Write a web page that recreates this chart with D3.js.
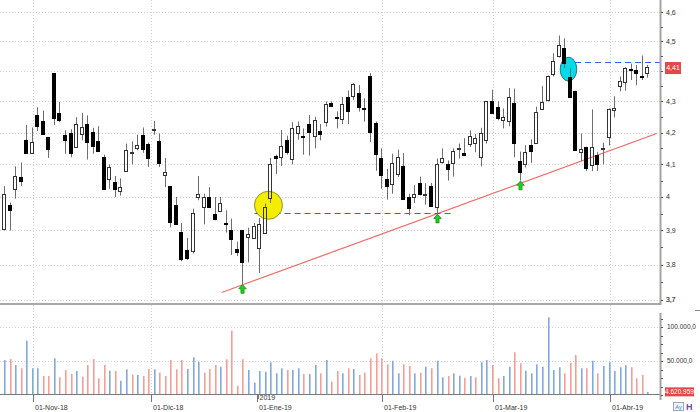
<!DOCTYPE html>
<html><head><meta charset="utf-8">
<script src="https://cdn.jsdelivr.net/npm/d3@7/dist/d3.min.js"></script>
<style>body{margin:0;background:#fff;}svg{display:block;font-family:"Liberation Sans",Arial,sans-serif;}</style>
</head><body><svg id="c" width="700" height="412"></svg>
<script>
// ---------- data ----------
const opens = [4.000,3.906,3.977,4.023,4.061,4.175,4.136,4.256,4.238,4.186,
4.393,4.263,4.191,4.197,4.154,4.195,4.226,4.202,4.172,4.122,
4.054,4.046,4.017,4.079,4.139,4.154,4.193,4.165,4.208,4.172,
4.068,4.032,3.977,3.894,3.843,3.840,4.002,3.970,4.000,3.948,
3.958,3.921,3.902,3.845,3.900,3.882,3.878,3.848,3.892,3.995,
4.125,4.124,4.175,4.114,4.197,4.188,4.226,4.188,4.205,4.233,
4.294,4.249,4.243,4.316,4.319,4.327,4.278,4.385,4.230,4.120,
4.055,4.040,4.072,4.096,4.000,4.000,4.043,4.009,4.034,3.970,
4.107,4.100,4.104,4.150,4.135,4.162,4.168,4.125,4.175,4.300,
4.281,4.238,4.238,4.294,4.110,4.102,4.162,4.168,4.274,4.302,
4.390,4.449,4.478,4.380,4.335,4.139,4.155,4.100,4.130,4.148,
4.184,4.272,4.350,4.363,4.406,4.404,4.385,4.393];
const highs = [4.005,4.033,3.983,4.094,4.106,4.224,4.216,4.281,4.270,4.186,
4.393,4.298,4.207,4.210,4.249,4.263,4.255,4.215,4.220,4.130,
4.100,4.064,4.057,4.165,4.172,4.193,4.216,4.168,4.237,4.197,
4.120,4.032,4.000,3.922,3.878,3.965,4.064,4.010,4.030,4.000,
4.000,3.960,3.935,3.867,3.900,3.908,3.922,3.937,3.980,4.120,
4.130,4.208,4.190,4.233,4.235,4.213,4.256,4.250,4.227,4.300,
4.300,4.268,4.314,4.336,4.360,4.354,4.310,4.393,4.235,4.150,
4.086,4.133,4.146,4.135,4.010,4.036,4.062,4.042,4.043,4.118,
4.150,4.112,4.150,4.165,4.182,4.207,4.195,4.215,4.300,4.338,
4.300,4.277,4.344,4.342,4.140,4.160,4.178,4.283,4.350,4.385,
4.460,4.520,4.510,4.410,4.335,4.197,4.155,4.274,4.138,4.168,
4.277,4.317,4.382,4.413,4.425,4.420,4.452,4.420];
const lows = [3.920,3.900,3.900,3.995,4.033,4.134,4.136,4.205,4.195,4.120,
4.224,4.233,4.133,4.122,4.154,4.175,4.115,4.133,4.142,4.022,
4.025,4.000,4.004,4.079,4.100,4.144,4.136,4.092,4.193,4.092,
4.030,3.909,3.921,3.810,3.814,3.833,3.990,3.918,3.970,3.930,
3.955,3.894,3.828,3.825,3.745,3.807,3.875,3.776,3.890,3.982,
4.070,4.095,4.130,4.100,4.177,4.130,4.127,4.150,4.175,4.219,
4.283,4.213,4.227,4.227,4.305,4.267,4.235,4.170,4.080,4.025,
3.992,4.010,4.061,3.995,3.945,3.982,4.005,3.977,3.970,3.950,
4.102,4.050,4.062,4.118,4.127,4.154,4.138,4.094,4.165,4.260,
4.239,4.213,4.220,4.122,4.050,4.090,4.105,4.165,4.272,4.300,
4.382,4.445,4.410,4.315,4.145,4.110,4.079,4.079,4.080,4.100,
4.159,4.248,4.333,4.335,4.370,4.353,4.370,4.378];
const closes = [3.925,4.010,3.962,4.063,4.049,4.134,4.170,4.221,4.195,4.148,
4.247,4.242,4.175,4.133,4.226,4.216,4.170,4.159,4.142,4.022,
4.092,4.026,4.030,4.144,4.140,4.162,4.150,4.122,4.210,4.104,
4.076,3.923,3.919,3.816,3.819,3.952,4.010,4.000,3.970,3.933,
3.982,3.919,3.875,3.837,3.807,3.890,3.913,3.920,3.970,4.100,
4.120,4.157,4.138,4.213,4.220,4.186,4.200,4.239,4.195,4.292,
4.283,4.248,4.292,4.272,4.357,4.283,4.277,4.202,4.133,4.068,
4.033,4.105,4.124,3.995,3.966,4.010,4.008,4.010,3.974,4.101,
4.120,4.084,4.142,4.151,4.130,4.188,4.184,4.200,4.300,4.260,
4.245,4.248,4.316,4.165,4.077,4.140,4.144,4.266,4.297,4.382,
4.433,4.487,4.427,4.315,4.145,4.148,4.089,4.155,4.103,4.150,
4.274,4.280,4.368,4.410,4.404,4.393,4.383,4.413];
// volume in thousands
const volumes = [40000,
51500,52900,44100,39300,79900,39300,39300,27900,27900,54000,
26000,36800,30900,35300,26900,44100,52900,24600,44100,35700,
35300,21000,37800,29900,29400,27900,38200,37800,32800,27900,
51500,37800,51500,38200,55400,48500,32800,38200,44100,41600,
52500,94600,13200,52500,36800,18100,35300,34300,48100,31900,
39300,36800,36800,39300,30900,30900,44100,31900,51500,19600,
35300,31900,39300,38200,29400,32800,54000,61300,54000,45100,
50400,31900,45100,42600,31900,32800,41600,39300,50400,26000,
27900,31900,28400,25400,27900,26000,48100,51500,44100,24600,
27900,41600,62800,46600,35700,31900,45100,41600,114300,36800,
40700,31900,47500,58800,39300,39300,50400,31900,42600,48100,
35300,40700,43700,40700,24600,29400,4620.959];

const priceTicks = [3.7,3.8,3.9,4.0,4.1,4.2,4.3,4.4,4.5,4.6];
const priceTickLabels = ["3,7","3,8","3,9","4","4,1","4,2","4,3","4,4","4,5","4,6"];
const monthLabels = ["01-Nov-18","01-Dic-18","01-Ene-19","01-Feb-19","01-Mar-19","01-Abr-19"];
const monthIndex = [6, 27.33, 46.5, 69, 89, 110];   // bar index of each month start
const monthGrid = [true, true, false, true, true, true];
const yearLabel = "2019";
const yearIndex = 46.5;
const volTicks = [50000, 100000];
const volTickLabels = ["50.000,0", "100.000,0"];
const lastPrice = 4.41, lastPriceLabel = "4,41";
const lastVolumeLabel = "4.620.959";
const arrowBars = [44, 79, 94];
const levelLines = [{from: 46.0, to: 82.0, price: 3.951}, {from: 103.8, to: 119.2, price: 4.429}];
const trendLine = [{i: 40.07, p: 3.721}, {i: 118.5, p: 4.197}];
const yellowMark = {i: 48.5, p: 3.975};
const cyanMark = {i: 102.6, p: 4.406};

// ---------- layout ----------
const svg = d3.select("#c");
const plotRight = 660, mainBottom = 303;
const n = closes.length;
const x = d3.scaleLinear().domain([0, n - 1]).range([-0.55, -0.55 + 5.546 * (n - 1)]);
const y = d3.scaleLog().domain([3.7, 4.6]).range([300, 12.3]);
const vy = d3.scaleLinear().domain([0, 100000]).range([395, 327]);
const cx = i => Math.round(x(i));

const defs = svg.append("defs");
defs.append("clipPath").attr("id", "mainClip").append("rect").attr("x", 0).attr("y", 0).attr("width", plotRight).attr("height", mainBottom);
defs.append("clipPath").attr("id", "volClip").append("rect").attr("x", 0).attr("y", 305).attr("width", plotRight).attr("height", 89);

const gridColor = "#cfcfcf";
const main = svg.append("g").attr("clip-path", "url(#mainClip)");
main.selectAll(".hg").data(priceTicks).join("line")
  .attr("x1", 0).attr("x2", plotRight)
  .attr("y1", d => Math.round(y(d)) + 0.5).attr("y2", d => Math.round(y(d)) + 0.5)
  .attr("stroke", gridColor).attr("stroke-dasharray", "1,2");
main.selectAll(".vg").data(monthIndex.filter((d, k) => monthGrid[k])).join("line")
  .attr("x1", d => Math.round(x(d)) + 0.5).attr("x2", d => Math.round(x(d)) + 0.5)
  .attr("y1", 0).attr("y2", mainBottom)
  .attr("stroke", gridColor).attr("stroke-dasharray", "1,2");

// annotations under candles
main.append("line")
  .attr("x1", x(trendLine[0].i)).attr("y1", y(trendLine[0].p))
  .attr("x2", x(trendLine[1].i)).attr("y2", y(trendLine[1].p))
  .attr("stroke", "#f26a6a").attr("stroke-width", 1.2);
main.selectAll(".lvl").data(levelLines).join("line")
  .attr("x1", d => x(d.from)).attr("x2", d => x(d.to))
  .attr("y1", d => Math.round(y(d.price)) + 0.5).attr("y2", d => Math.round(y(d.price)) + 0.5)
  .attr("stroke", "#3a5cf2").attr("stroke-width", 1).attr("stroke-dasharray", "6,4");
main.append("circle").attr("cx", x(yellowMark.i)).attr("cy", y(yellowMark.p)).attr("r", 14)
  .attr("fill", "#f3ee00").attr("stroke", "#7d7a20").attr("stroke-width", 0.8);
main.append("ellipse").attr("cx", x(cyanMark.i)).attr("cy", y(cyanMark.p)).attr("rx", 8.3).attr("ry", 12)
  .attr("fill", "#00dcea").attr("stroke", "#2a5560").attr("stroke-width", 0.8);

// candles
const idx = d3.range(n);
const bodyTop = i => Math.round(y(Math.max(opens[i], closes[i])));
const bodyH = i => Math.max(1, Math.round(Math.abs(y(opens[i]) - y(closes[i]))));
main.selectAll(".wickU").data(idx).join("line")
  .attr("x1", i => cx(i) - 0.5).attr("x2", i => cx(i) - 0.5)
  .attr("y1", i => y(highs[i])).attr("y2", i => bodyTop(i))
  .attr("stroke", "#6e6e6e").attr("stroke-width", 1);
main.selectAll(".wickD").data(idx).join("line")
  .attr("x1", i => cx(i) - 0.5).attr("x2", i => cx(i) - 0.5)
  .attr("y1", i => bodyTop(i) + bodyH(i)).attr("y2", i => y(lows[i]))
  .attr("stroke", "#6e6e6e").attr("stroke-width", 1);
main.selectAll(".body").data(idx).join("rect")
  .attr("x", i => cx(i) - 2.5)
  .attr("width", 3)
  .attr("y", i => bodyTop(i) + 0.5)
  .attr("height", bodyH)
  .attr("fill", i => closes[i] < opens[i] ? "#000" : "none")
  .attr("stroke", i => closes[i] < opens[i] ? "#000" : "#333")
  .attr("stroke-width", 1);

// support arrows
const arrowPath = "M0,0 L3.8,4.3 L1.6,4.3 L1.6,8.8 L-1.6,8.8 L-1.6,4.3 L-3.8,4.3 Z";
main.selectAll(".arrow").data(arrowBars).join("path")
  .attr("d", arrowPath)
  .attr("transform", i => `translate(${cx(i) - 0.5},${y(lows[i]) + 0.5})`)
  .attr("fill", "#1fd21f").attr("stroke", "#0a6e0a").attr("stroke-width", 0.6);

// separator and right price axis
svg.append("line").attr("x1", 0).attr("x2", plotRight).attr("y1", 304).attr("y2", 304)
  .attr("stroke", "#a9a9a9").attr("stroke-width", 2);
svg.append("line").attr("x1", plotRight + 0.5).attr("x2", plotRight + 0.5).attr("y1", 0).attr("y2", 305)
  .attr("stroke", "#a3a3a3").attr("stroke-width", 2);
const minorTicks = d3.range(3.7, 4.61, 0.05);
svg.selectAll(".pmt").data(minorTicks).join("line")
  .attr("x1", plotRight + 1).attr("x2", plotRight + 3)
  .attr("y1", d => Math.round(y(d)) + 0.5).attr("y2", d => Math.round(y(d)) + 0.5)
  .attr("stroke", "#555");
const lp = y(lastPrice);
// labels hidden behind the last-price tag are not drawn
svg.selectAll(".plab").data(priceTicks.filter(d => Math.abs(y(d) - lp) > 8)).join("text")
  .attr("x", plotRight + 6).attr("y", d => y(d)).attr("dy", "0.35em")
  .attr("font-size", 7).attr("fill", "#333")
  .text(d => priceTickLabels[priceTicks.indexOf(d)]);
svg.append("rect").attr("x", 665).attr("y", lp - 6).attr("width", 16).attr("height", 12).attr("fill", "#e74646");
svg.append("text").attr("x", 673).attr("y", lp).attr("dy", "0.35em").attr("text-anchor", "middle")
  .attr("font-size", 7).attr("fill", "#fff").text(lastPriceLabel);

// ---------- volume panel ----------
const vol = svg.append("g").attr("clip-path", "url(#volClip)");
vol.selectAll(".vhg").data(volTicks).join("line")
  .attr("x1", 0).attr("x2", plotRight)
  .attr("y1", d => Math.round(vy(d)) + 0.5).attr("y2", d => Math.round(vy(d)) + 0.5)
  .attr("stroke", gridColor).attr("stroke-dasharray", "1,2");
vol.selectAll(".vvg").data(monthIndex.filter((d, k) => monthGrid[k])).join("line")
  .attr("x1", d => Math.round(x(d)) + 0.5).attr("x2", d => Math.round(x(d)) + 0.5)
  .attr("y1", 305).attr("y2", 394)
  .attr("stroke", gridColor).attr("stroke-dasharray", "1,2");
vol.selectAll(".vbar").data(idx).join("rect")
  .attr("x", i => cx(i) - 1)
  .attr("width", 1.6)
  .attr("y", i => vy(volumes[i]))
  .attr("height", i => vy(0) - vy(volumes[i]))
  .attr("fill", i => (i === 0 || closes[i] >= closes[i - 1]) ? "#80a9dc" : "#f39f98");

// x axis baseline and ticks
svg.append("line").attr("x1", 0).attr("x2", plotRight).attr("y1", 394.5).attr("y2", 394.5).attr("stroke", "#7a7a7a");
svg.selectAll(".xt").data(monthIndex).join("line")
  .attr("x1", d => Math.round(x(d)) + 0.5).attr("x2", d => Math.round(x(d)) + 0.5)
  .attr("y1", 395).attr("y2", 402).attr("stroke", "#777");
svg.selectAll(".xl").data(monthIndex).join("text")
  .attr("x", d => Math.round(x(d)) + 2).attr("y", 410)
  .attr("font-size", 7).attr("fill", "#333")
  .text((d, k) => monthLabels[k]);
svg.append("line").attr("x1", Math.round(x(yearIndex)) + 1.5).attr("x2", Math.round(x(yearIndex)) + 1.5)
  .attr("y1", 395).attr("y2", 399).attr("stroke", "#777");
svg.append("text").attr("x", Math.round(x(yearIndex)) + 2.5).attr("y", 399.5)
  .attr("font-size", 7).attr("fill", "#333").text(yearLabel);

// volume axis
svg.append("line").attr("x1", plotRight + 0.5).attr("x2", plotRight + 0.5).attr("y1", 313).attr("y2", 400)
  .attr("stroke", "#a3a3a3").attr("stroke-width", 2);
svg.selectAll(".vmt").data(d3.range(0, 120001, 12500)).join("line")
  .attr("x1", plotRight + 1).attr("x2", plotRight + 3)
  .attr("y1", d => Math.round(vy(d)) + 0.5).attr("y2", d => Math.round(vy(d)) + 0.5)
  .attr("stroke", "#555");
svg.selectAll(".vlab").data(volTicks).join("text")
  .attr("x", plotRight + 7).attr("y", d => vy(d)).attr("dy", "0.35em")
  .attr("font-size", 6.5).attr("fill", "#333")
  .text((d, k) => volTickLabels[k]);
const lv = vy(volumes[n - 1]);
svg.append("rect").attr("x", 665).attr("y", lv - 4.5).attr("width", 29).attr("height", 9).attr("fill", "#e74646");
svg.append("text").attr("x", 679.5).attr("y", lv).attr("dy", "0.35em").attr("text-anchor", "middle")
  .attr("font-size", 6.5).attr("fill", "#fff").text(lastVolumeLabel);
// small corner bits
svg.append("text").attr("x", 666).attr("y", 302).attr("font-size", 6.5).attr("fill", "#555").text("3,7");
svg.append("line").attr("x1", 695).attr("x2", 700).attr("y1", 310.5).attr("y2", 310.5).attr("stroke", "#888");
svg.append("rect").attr("x", 673.5).attr("y", 402.5).attr("width", 10).attr("height", 8).attr("fill", "#eef3fb").attr("stroke", "#9ab");
svg.append("text").attr("x", 678.5).attr("y", 409).attr("text-anchor", "middle").attr("font-size", 5.5).attr("fill", "#4a78c0").text("Ay");
svg.append("text").attr("x", 686).attr("y", 410).attr("font-size", 9).attr("font-weight", "bold").attr("fill", "#7a3fc8").text("H");
</script></body></html>
